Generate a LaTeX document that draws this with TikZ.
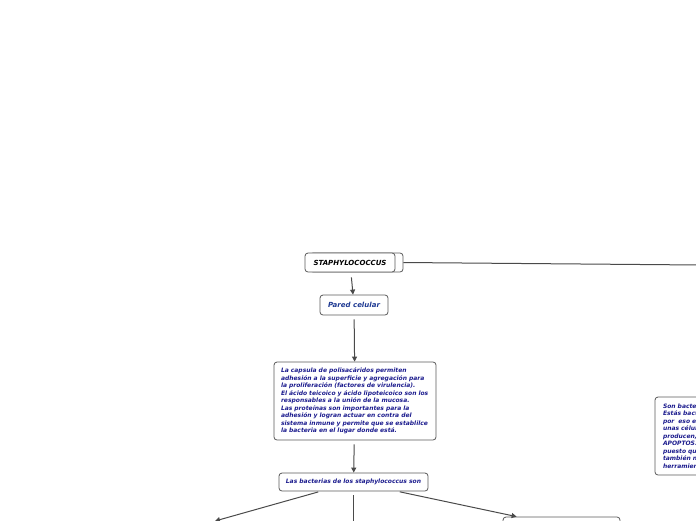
\documentclass[tikz,border=0pt]{standalone}
\usepackage{fontspec}
\setmainfont{DejaVu Sans}
\usetikzlibrary{arrows.meta}

\definecolor{txtblue}{HTML}{1C1C8E}
\definecolor{paredblue}{HTML}{1F3A93}
\definecolor{boxgray}{HTML}{5A5A5A}
\definecolor{linkgray}{HTML}{4A4A4A}

\tikzset{
  topic/.style={draw=boxgray, line width=0.8pt, rounded corners=3pt, fill=white,
    text=txtblue, align=left, inner sep=0pt,
    font=\fontsize{6}{7.5}\selectfont\bfseries\itshape},
  maintopic/.style={topic, text=black, align=center,
    font=\fontsize{7}{8}\selectfont\bfseries\itshape},
  link/.style={draw=linkgray, line width=1pt, shorten <=4pt,
    -{Triangle[length=5pt,width=5pt]}},
  plainlink/.style={draw=linkgray, line width=1pt},
}

\begin{document}
\begin{tikzpicture}[x=1pt, y=-1pt]
\useasboundingbox (0,0) rectangle (696,520);
\clip (0,0) rectangle (696,520);

% central topic, with the collapsed box behind it
\node[topic, minimum width=93pt, minimum height=19pt] (staphback) at (356.5,262.5) {};
\node[maintopic, minimum width=90pt, minimum height=19pt] (staph) at (350,262.5) {STAPHYLOCOCCUS};

% first level
\node[topic, align=center, text=paredblue, minimum width=68pt, minimum height=20pt,
  font=\fontsize{7}{8}\selectfont\bfseries\itshape] (pared) at (354,305) {Pared celular};

\node[topic, text width=148pt, minimum width=162pt, minimum height=78pt, align=left] (capsula) at (355,401)
  {La capsula de polisacáridos permiten\\
   adhesión a la superficie y agregación para\\
   la proliferación (factores de virulencia).\\
   El ácido teicoico y ácido lipoteicoico son los\\
   responsables a la unión de la mucosa.\\
   Las proteínas son importantes para la\\
   adhesión y logran actuar en contra del\\
   sistema inmune y permite que se establilce\\
   la bacteria en el lugar donde está.};

\node[topic, align=center, minimum width=149pt, minimum height=18pt] (bacterias) at (353.5,482)
  {Las bacterias de los staphylococcus son};

% nodes that run off the page
\node[topic, text width=134pt, minimum width=150pt, minimum height=78pt] (apoptosis) at (730,436)
  {Son bacterias\\ Estás bacterias\\ por \ eso es\\ unas células\\ producen,\\ APOPTOS.\\ puesto que\\ también no\\ herramientas};
\node[topic, minimum width=117pt, minimum height=40pt] (rightkid) at (561.5,537) {};
\coordinate (leftkid) at (215,521);
\coordinate (midkid) at (353.5,532);
\coordinate (farright) at (700,265);

% connectors
\draw[plainlink] (staphback.east) -- (farright);
\draw[link, shorten <=5pt] (staph) -- (pared);
\draw[link] (pared) -- (capsula);
\draw[link] (capsula) -- (bacterias);
\draw[link, shorten <=2pt] (bacterias) -- (leftkid);
\draw[plainlink, shorten <=4pt] (bacterias) -- (midkid);
\draw[link, shorten <=2pt] (bacterias) -- ([xshift=14pt]rightkid.north west);
\end{tikzpicture}
\end{document}
